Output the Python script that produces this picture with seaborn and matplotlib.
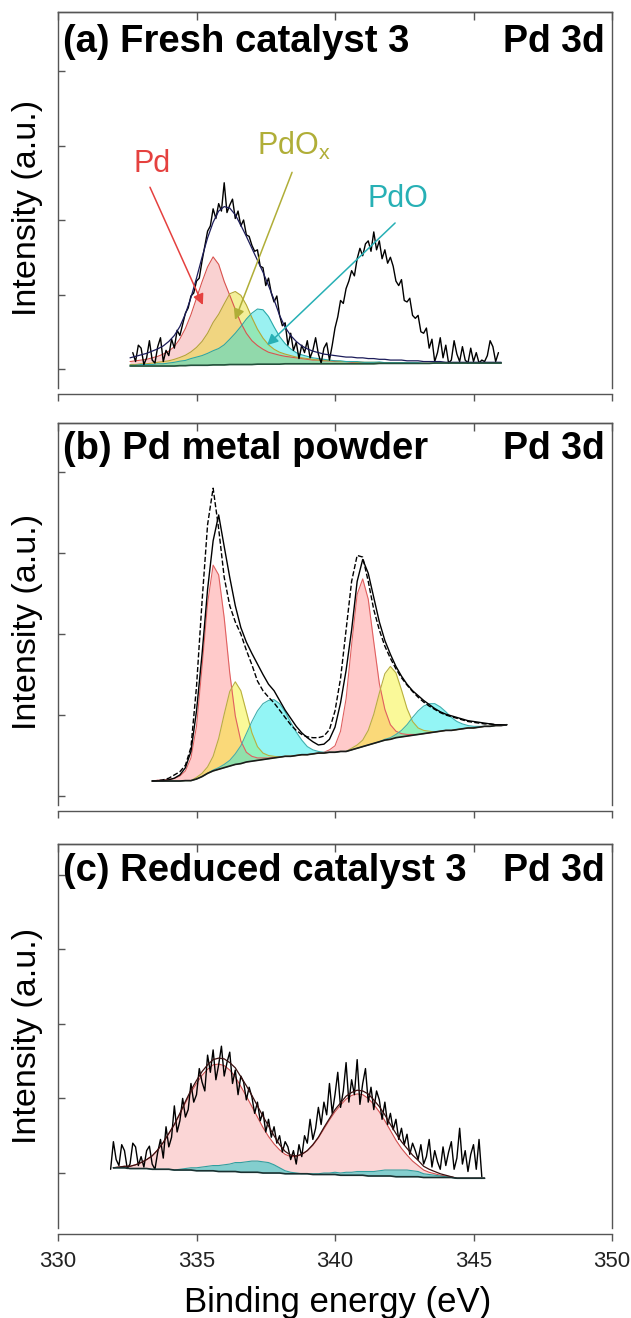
import numpy as np
import matplotlib
matplotlib.use("Agg")
import matplotlib.pyplot as plt
import seaborn as sns

sns.set_theme(style="ticks")
plt.rcParams['font.family'] = ['Liberation Sans', 'DejaVu Sans']
plt.rcParams['mathtext.default'] = 'regular'

# ---------------- data ----------------
x_ticks = [330, 335, 340, 345, 350]
x_ticklabels = ["330", "335", "340", "345", "350"]
y_ticks = [0, 1, 2, 3, 4]

titles = ["(a) Fresh catalyst 3", "(b) Pd metal powder", "(c) Reduced catalyst 3"]
region = "Pd 3d"
species = ["Pd", "PdO$_x$", "PdO"]

# panel (a): fitted components on 0.2 eV grid 332.6 .. 346.0
x_a = np.round(np.arange(332.6, 346.0 + 1e-9, 0.2), 2)
bg_a = [0.04, 0.04, 0.04, 0.04, 0.04, 0.04, 0.04, 0.04, 0.04, 0.045, 0.045, 0.05, 0.05, 0.05, 0.05,
        0.055, 0.055, 0.055, 0.06, 0.06, 0.06, 0.06, 0.06, 0.065, 0.065,
        0.065, 0.065, 0.065, 0.07, 0.07, 0.07, 0.07, 0.07, 0.07, 0.07,
        0.07, 0.07, 0.07, 0.07, 0.07, 0.07, 0.07, 0.07, 0.07, 0.07,
        0.075, 0.075, 0.075, 0.075, 0.075, 0.075, 0.075, 0.075, 0.075, 0.075,
        0.08, 0.08, 0.08, 0.08, 0.08, 0.08, 0.08, 0.08, 0.08, 0.08, 0.08, 0.08, 0.08]
pd_a = [0.06, 0.07, 0.08, 0.09, 0.11, 0.13, 0.16, 0.20, 0.26, 0.36,
        0.50, 0.68, 0.90, 1.12, 1.32, 1.45, 1.35, 1.12, 0.93, 0.74,
        0.56, 0.42, 0.32, 0.25, 0.20, 0.16, 0.14, 0.12, 0.10, 0.09,
        0.08, 0.07, 0.06, 0.05, 0.05, 0.04, 0.04, 0.03, 0.03, 0.03,
        0.02, 0.02, 0.02, 0.01, 0.01, 0.01, 0.01, 0.01, 0, 0,
        0, 0, 0, 0, 0, 0, 0, 0, 0, 0, 0, 0, 0, 0, 0, 0, 0, 0]
pdox_a = [0.02, 0.02, 0.03, 0.03, 0.04, 0.05, 0.06, 0.07, 0.09, 0.11,
          0.14, 0.18, 0.24, 0.32, 0.43, 0.57, 0.68, 0.82, 0.95, 0.98,
          0.93, 0.80, 0.63, 0.47, 0.35, 0.26, 0.20, 0.16, 0.13, 0.11,
          0.09, 0.08, 0.07, 0.06, 0.05, 0.05, 0.04, 0.04, 0.03, 0.03,
          0.03, 0.02, 0.02, 0.02, 0.02, 0.01, 0.01, 0.01, 0.01, 0.01,
          0, 0, 0, 0, 0, 0, 0, 0, 0, 0, 0, 0, 0, 0, 0, 0, 0, 0]
pdo_a = [0.01, 0.01, 0.02, 0.02, 0.02, 0.03, 0.03, 0.04, 0.05, 0.06,
         0.07, 0.09, 0.11, 0.13, 0.16, 0.19, 0.22, 0.27, 0.34, 0.42,
         0.51, 0.61, 0.69, 0.74, 0.73, 0.64, 0.50, 0.37, 0.27, 0.20,
         0.15, 0.12, 0.10, 0.08, 0.07, 0.06, 0.05, 0.04, 0.04, 0.03,
         0.03, 0.03, 0.02, 0.02, 0.02, 0.02, 0.01, 0.01, 0.01, 0.01,
         0.01, 0.01, 0.01, 0, 0, 0, 0, 0, 0, 0, 0, 0, 0, 0, 0, 0, 0, 0]
env_a = [0.15, 0.17, 0.19, 0.21, 0.24, 0.27, 0.31, 0.37, 0.45, 0.57,
         0.74, 0.96, 1.22, 1.50, 1.76, 1.97, 2.12, 2.18, 2.16, 2.07,
         1.93, 1.78, 1.62, 1.46, 1.30, 1.12, 0.93, 0.72, 0.56, 0.45,
         0.37, 0.31, 0.27, 0.24, 0.22, 0.20, 0.19, 0.18, 0.17, 0.16,
         0.16, 0.15, 0.15, 0.14, 0.14, 0.13, 0.13, 0.12, 0.12, 0.12,
         0.11, 0.11, 0.11, 0.10, 0.10, 0.10, 0.10, 0.09, 0.09, 0.09,
         0.09, 0.09, 0.09, 0.09, 0.09, 0.09, 0.09, 0.09]
# panel (a): measured spectrum, 0.1 eV steps 332.7 .. 345.9
xr_a = np.round(np.arange(332.7, 345.9 + 1e-9, 0.1), 2)
raw_a = [0.22, 0.10, 0.32, 0.28, 0.06, 0.15, 0.38, 0.12, 0.08, 0.30, 0.42, 0.10, 0.25,
         0.18, 0.40, 0.28, 0.52, 0.45, 0.60, 0.75, 0.82, 0.98, 1.02,
         1.18, 1.22, 1.45, 1.65, 1.85, 1.92, 2.15, 2.02, 2.22, 2.12,
         2.50, 2.10, 2.20, 2.28, 2.02, 2.12, 1.92, 2.00, 1.80, 1.78,
         1.66, 1.58, 1.60, 1.38, 1.36, 1.12, 1.22, 1.02, 0.90, 0.98,
         0.72, 0.58, 0.62, 0.32, 0.48, 0.25, 0.36, 0.14, 0.32, 0.22,
         0.38, 0.15, 0.25, 0.42, 0.20, 0.08, 0.28, 0.35, 0.12, 0.32,
         0.55, 0.70, 0.92, 0.88, 1.08, 1.18, 1.32, 1.25, 1.48, 1.62,
         1.52, 1.68, 1.72, 1.58, 1.84, 1.60, 1.72, 1.48, 1.60, 1.42,
         1.50, 1.38, 1.18, 1.12, 1.20, 0.92, 0.90, 0.95, 0.72, 0.68,
         0.72, 0.50, 0.48, 0.55, 0.28, 0.40, 0.10, 0.22, 0.42, 0.15,
         0.32, 0.08, 0.12, 0.38, 0.20, 0.10, 0.30, 0.12, 0.08, 0.28,
         0.10, 0.22, 0.08, 0.12, 0.10, 0.18, 0.38, 0.30, 0.10, 0.22]

# panel (b): 0.2 eV grid 333.4 .. 346.2
x_b = np.round(np.arange(333.4, 346.2 + 1e-9, 0.2), 2)
bg_b = [0.185, 0.185, 0.185, 0.185, 0.185, 0.185, 0.19, 0.19, 0.21, 0.24,
        0.28, 0.31, 0.33, 0.35, 0.37, 0.39, 0.40, 0.42, 0.43, 0.44,
        0.45, 0.46, 0.47, 0.48, 0.49, 0.49, 0.50, 0.51, 0.51, 0.52,
        0.53, 0.53, 0.54, 0.54, 0.55, 0.55, 0.57, 0.59, 0.61, 0.63,
        0.65, 0.67, 0.69, 0.70, 0.72, 0.73, 0.74, 0.75, 0.76, 0.77,
        0.78, 0.79, 0.80, 0.81, 0.81, 0.82, 0.83, 0.84, 0.84, 0.85,
        0.86, 0.86, 0.87, 0.87, 0.88]
pd_b = [0, 0.01, 0.01, 0.02, 0.03, 0.06, 0.12, 0.28, 0.65, 1.35,
        2.10, 2.54, 2.40, 1.85, 1.15, 0.60, 0.28, 0.12, 0.06, 0.03,
        0.02, 0.01, 0.01, 0, 0, 0, 0, 0, 0, 0,
        0, 0.01, 0.03, 0.08, 0.25, 0.65, 1.30, 1.90, 2.07, 1.80,
        1.25, 0.72, 0.38, 0.18, 0.08, 0.04, 0.02, 0.01, 0, 0,
        0, 0, 0, 0, 0, 0, 0, 0, 0, 0, 0, 0, 0, 0, 0]
pdox_b = [0, 0, 0, 0, 0, 0, 0, 0, 0.02, 0.04,
          0.08, 0.18, 0.38, 0.66, 0.92, 1.02, 0.90, 0.62, 0.35, 0.17,
          0.08, 0.04, 0.02, 0, 0, 0, 0, 0, 0, 0,
          0, 0, 0, 0, 0, 0, 0.02, 0.04, 0.08, 0.18,
          0.36, 0.60, 0.82, 0.90, 0.80, 0.58, 0.34, 0.17, 0.08, 0.04,
          0.02, 0, 0, 0, 0, 0, 0, 0, 0, 0, 0, 0, 0, 0, 0]
pdo_b = [0, 0, 0, 0, 0, 0, 0, 0, 0, 0,
         0, 0.01, 0.02, 0.04, 0.07, 0.13, 0.22, 0.35, 0.49, 0.61,
         0.69, 0.72, 0.72, 0.66, 0.55, 0.42, 0.29, 0.18, 0.10, 0.05,
         0.02, 0.01, 0, 0, 0, 0, 0, 0, 0, 0,
         0, 0, 0.01, 0.02, 0.04, 0.08, 0.14, 0.22, 0.29, 0.34,
         0.36, 0.35, 0.30, 0.23, 0.16, 0.10, 0.06, 0.03, 0.02, 0.01,
         0, 0, 0, 0, 0]
env_b = [0.185, 0.19, 0.19, 0.20, 0.22, 0.26, 0.35, 0.55, 1.05, 1.75,
         2.55, 3.15, 3.47, 3.08, 2.70, 2.35, 2.08, 1.90, 1.76, 1.63,
         1.50, 1.38, 1.30, 1.18, 1.06, 0.96, 0.86, 0.78, 0.72, 0.67,
         0.63, 0.64, 0.70, 0.85, 1.15, 1.55, 2.05, 2.65, 2.92, 2.75,
         2.45, 2.15, 1.92, 1.75, 1.60, 1.48, 1.38, 1.30, 1.24, 1.18,
         1.13, 1.08, 1.04, 1.01, 0.99, 0.97, 0.95, 0.93, 0.92, 0.91,
         0.90, 0.89, 0.88, 0.88, 0.88]
raw_b = [0.185, 0.19, 0.20, 0.22, 0.26, 0.30, 0.38, 0.60, 1.35, 2.40,
         3.35, 3.80, 3.30, 2.70, 2.35, 2.15, 2.00, 1.80, 1.62, 1.42,
         1.30, 1.22, 1.15, 1.06, 0.97, 0.88, 0.81, 0.76, 0.73, 0.72,
         0.72, 0.74, 0.82, 1.05, 1.45, 2.05, 2.65, 2.97, 2.95, 2.65,
         2.30, 2.05, 1.85, 1.70, 1.57, 1.46, 1.37, 1.29, 1.22, 1.16,
         1.11, 1.07, 1.03, 1.00, 0.98, 0.96, 0.94, 0.92, 0.91, 0.90,
         0.89, 0.89, 0.88, 0.88, 0.88]

# panel (c): 0.2 eV grid 332.0 .. 345.4
x_c = np.round(np.arange(332.0, 345.4 + 1e-9, 0.2), 2)
bg_c = [0.07, 0.07, 0.07, 0.06, 0.06, 0.06, 0.06, 0.05, 0.05, 0.05,
        0.05, 0.04, 0.04, 0.04, 0.04, 0.03, 0.03, 0.03, 0.03, 0.02,
        0.02, 0.02, 0.02, 0.01, 0.01, 0.01, 0.01, 0.00, 0.00, 0.00,
        0.00, -0.01, -0.01, -0.01, -0.01, -0.01, -0.02, -0.02, -0.02, -0.02,
        -0.02, -0.03, -0.03, -0.03, -0.03, -0.03, -0.04, -0.04, -0.04, -0.04,
        -0.04, -0.05, -0.05, -0.05, -0.05, -0.05, -0.06, -0.06, -0.06, -0.06,
        -0.06, -0.06, -0.07, -0.07, -0.07, -0.07, -0.07, -0.07]
pd_c = [0.00, 0.01, 0.02, 0.03, 0.05, 0.08, 0.12, 0.18, 0.26, 0.36,
        0.48, 0.61, 0.75, 0.90, 1.04, 1.17, 1.28, 1.36, 1.42, 1.44,
        1.42, 1.36, 1.27, 1.15, 1.02, 0.88, 0.74, 0.61, 0.49, 0.39,
        0.31, 0.26, 0.23, 0.23, 0.26, 0.31, 0.39, 0.49, 0.61, 0.73,
        0.84, 0.94, 1.02, 1.07, 1.09, 1.08, 1.04, 0.96, 0.86, 0.74,
        0.61, 0.49, 0.38, 0.29, 0.21, 0.15, 0.10, 0.07, 0.05, 0.03,
        0.02, 0.01, 0, 0, 0, 0, 0, 0]
pdo_c = [0, 0, 0, 0, 0, 0, 0, 0, 0, 0,
         0, 0, 0.01, 0.02, 0.03, 0.04, 0.05, 0.06, 0.07, 0.08,
         0.09, 0.10, 0.12, 0.13, 0.14, 0.15, 0.15, 0.15, 0.14, 0.11,
         0.07, 0.04, 0.02, 0.01, 0.0, 0.0, 0.01, 0.01, 0.02, 0.02,
         0.03, 0.03, 0.04, 0.04, 0.05, 0.05, 0.06, 0.06, 0.07, 0.08,
         0.08, 0.09, 0.09, 0.09, 0.08, 0.07, 0.05, 0.04, 0.03, 0.02,
         0.01, 0, 0, 0, 0, 0, 0, 0]
xr_c = np.round(np.arange(331.9, 345.3 + 1e-9, 0.1), 2)
raw_c = [0.05, 0.42, 0.18, 0.10, 0.38, 0.30, 0.06, 0.12, 0.40, 0.35, 0.10,
         0.22, 0.08, 0.30, 0.36, 0.12, 0.05, 0.28, 0.45, 0.20, 0.62,
         0.35, 0.48, 0.90, 0.55, 0.70, 1.00, 0.75, 0.85, 1.20, 0.95,
         1.05, 1.40, 1.22, 1.10, 1.58, 1.35, 1.65, 1.25, 1.45, 1.70,
         1.30, 1.48, 1.62, 1.20, 1.38, 1.05, 1.30, 1.22, 0.98, 1.15,
         1.02, 0.80, 0.95, 0.70, 0.82, 0.55, 0.72, 0.48, 0.62, 0.40,
         0.50, 0.28, 0.42, 0.35, 0.18, 0.30, 0.12, 0.38, 0.22, 0.50,
         0.40, 0.72, 0.45, 0.60, 0.88, 0.65, 0.95, 0.78, 1.20, 0.80,
         1.05, 1.35, 0.88, 1.10, 1.48, 0.95, 1.25, 1.05, 1.52, 0.92,
         1.20, 1.40, 0.95, 1.15, 0.85, 1.10, 0.98, 0.72, 0.95, 0.65,
         0.80, 0.58, 0.72, 0.45, 0.60, 0.38, 0.52, 0.25, 0.40, 0.30,
         0.18, 0.38, 0.12, 0.22, 0.45, 0.08, 0.30, 0.15, 0.05, 0.35,
         0.10, 0.28, 0.42, 0.05, 0.20, 0.60, 0.12, 0.30, 0.02, 0.25,
         0.38, 0.05, 0.45, -0.05]

# ---------------- figure ----------------
W, H = 631, 1318
fig = plt.figure(figsize=(W / 100, H / 100), dpi=100)
fig.patch.set_facecolor("white")

SPINE = "#555555"
RED, OLIVE, TEAL = "#e5413f", "#b0ae38", "#27b0b5"


def ax_at(top, bottom, left=58, right=612):
    return fig.add_axes([left / W, 1 - bottom / H, (right - left) / W, (bottom - top) / H])


def ftext(x, y, s, **kw):
    fig.text(x / W, 1 - y / H, s, **kw)


def style(ax, ylo, yhi, labels):
    ax.set_facecolor("white")
    ax.set_xlim(330, 350)
    ax.set_ylim(ylo, yhi)
    ax.set_xticks(x_ticks)
    ax.set_xticklabels(x_ticklabels if labels else [])
    ax.set_yticks(y_ticks)
    ax.set_yticklabels([])
    ax.set_xlabel("")
    ax.set_ylabel("")
    for s in ax.spines.values():
        s.set_visible(True)
        s.set_color(SPINE)
        s.set_linewidth(1.0)
    ax.spines["bottom"].set_position(("outward", 4.3))
    ax.tick_params(axis="y", direction="in", length=5, width=1, color=SPINE, left=True, right=False)
    ax.tick_params(axis="x", direction="out", length=5, width=1, color=SPINE, bottom=True, top=False,
                   labelsize=16, labelcolor="#222222", pad=7)
    sec = ax.secondary_xaxis("top")
    sec.set_xticks(x_ticks)
    sec.tick_params(direction="in", length=5.5, width=1, color=SPINE, labeltop=False)
    sec.spines["top"].set_color(SPINE)
    sec.spines["top"].set_linewidth(1.0)


def comp(ax, x, bg, c, face, edge, alpha, lw=0.8):
    bg = np.asarray(bg)
    top = bg + np.asarray(c)
    ax.fill_between(x, bg, top, color=face, alpha=alpha, lw=0)
    sns.lineplot(x=x, y=top, ax=ax, color=edge, lw=lw, sort=False, estimator=None, errorbar=None)


def line(ax, x, y, color, lw, ls="-"):
    sns.lineplot(x=x, y=y, ax=ax, color=color, lw=lw, sort=False, estimator=None,
                 errorbar=None, linestyle=ls)


# ---- panel (a)
axa = ax_at(12, 388)
comp(axa, x_a, bg_a, pd_a, "#f07c7c", "#d9534f", 0.35)
comp(axa, x_a, bg_a, pdox_a, "#e6dc1e", "#b5a635", 0.45)
comp(axa, x_a, bg_a, pdo_a, "#1fe0e0", "#2aa9a9", 0.45)
line(axa, xr_a, raw_a, "black", 1.0)
line(axa, x_a, env_a, "#1c1c5a", 0.9)
line(axa, x_a, bg_a, "#24503c", 1.2)
style(axa, -0.255, 4.792, False)

axa.annotate("", xy=(335.23, 0.86), xytext=(333.32, 2.44),
             arrowprops=dict(arrowstyle="-|>", color=RED, lw=1.1, mutation_scale=16, shrinkA=0, shrinkB=0))
axa.annotate("", xy=(336.39, 0.66), xytext=(338.45, 2.64),
             arrowprops=dict(arrowstyle="-|>", color=OLIVE, lw=1.1, mutation_scale=16, shrinkA=0, shrinkB=0))
axa.annotate("", xy=(337.55, 0.32), xytext=(342.17, 1.96),
             arrowprops=dict(arrowstyle="-|>", color=TEAL, lw=1.1, mutation_scale=16, shrinkA=0, shrinkB=0))
axa.text(332.71, 2.64, species[0], color=RED, fontsize=22, ha="left", va="baseline")
axa.text(337.18, 2.87, species[1], color=OLIVE, fontsize=22, ha="left", va="baseline")
axa.text(341.16, 2.17, species[2], color=TEAL, fontsize=22, ha="left", va="baseline")

# ---- panel (b)
axb = ax_at(423, 805)
comp(axb, x_b, bg_b, pd_b, "#ff8a8a", "#e06060", 0.45)
comp(axb, x_b, bg_b, pdox_b, "#f4f000", "#b8b040", 0.40)
comp(axb, x_b, bg_b, pdo_b, "#10eaea", "#40b0b0", 0.45)
line(axb, x_b, raw_b, "black", 1.0, "--")
line(axb, x_b, env_b, "black", 1.0)
line(axb, x_b, bg_b, "#1a1a1a", 1.2)
style(axb, -0.111, 4.605, False)

# ---- panel (c)
axc = ax_at(844, 1228)
comp(axc, x_c, bg_c, pd_c, "#f59a9a", "#d05050", 0.40)
comp(axc, x_c, bg_c, pdo_c, "#20c8c8", "#30a0a0", 0.55)
line(axc, xr_c, raw_c, "black", 1.0)
env_c = np.asarray(bg_c) + np.asarray(pd_c) + np.asarray(pdo_c)
line(axc, x_c, env_c, "#3a1010", 0.9)
line(axc, x_c, bg_c, "#1a3030", 1.2)
style(axc, -0.737, 4.410, True)

# ---- texts
for ybase, t in zip([52, 459, 881], titles):
    ftext(63, ybase, t, ha="left", va="baseline", fontsize=27.5, fontweight="bold", color="black")
    ftext(605, ybase, region, ha="right", va="baseline", fontsize=27, fontweight="bold", color="black")
for yc in [208, 622, 1036]:
    ftext(28, yc, "Intensity (a.u.)", rotation=90, ha="center", va="center", fontsize=24.5, color="black")
ftext(338, 1312, "Binding energy (eV)", ha="center", va="baseline", fontsize=25, color="black")

fig.savefig("out.png", dpi=100, facecolor="white")
